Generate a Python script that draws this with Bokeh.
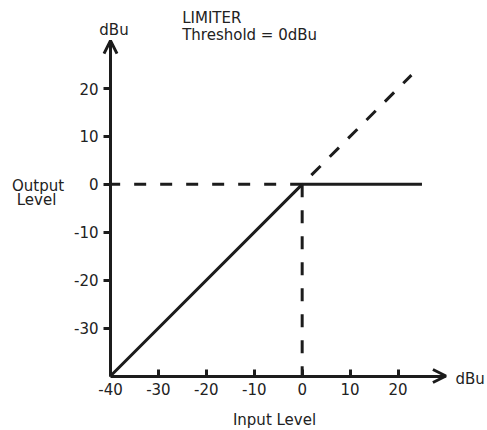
from bokeh.plotting import figure
from bokeh.models import Range1d, FixedTicker, Label, Arrow, OpenHead, LinearAxis
from bokeh.embed import file_html
from bokeh.resources import INLINE

# ---- data ----
x_ticks = [-40, -30, -20, -10, 0, 10, 20]
y_ticks = [-30, -20, -10, 0, 10, 20]
limiter_in = [-40, 0, 25]
limiter_out = [-40, 0, 0]
unity_in = [0, 22.8]
unity_out = [0, 22.8]
threshold = 0
axis_min = -40
axis_max = 30

INK = "#1c1c1c"
TXT = "#222222"
FONT = "DejaVu Sans"
FS = "15px"

p = figure(width=485, height=428,
           x_range=Range1d(-62.956, 38.26), y_range=Range1d(-50.956, 38.37),
           output_backend="svg", toolbar_location=None,
           x_axis_location=None, y_axis_location=None,
           min_border=0, min_border_left=0, min_border_right=0,
           min_border_top=0, min_border_bottom=0)
p.outline_line_color = None
p.xgrid.visible = False
p.ygrid.visible = False
p.background_fill_color = "white"
p.border_fill_color = "white"

xax = LinearAxis(fixed_location=axis_min)
yax = LinearAxis(fixed_location=axis_min)
p.add_layout(xax, "below")
p.add_layout(yax, "left")

for ax, ticks in ((xax, x_ticks), (yax, y_ticks)):
    ax.ticker = FixedTicker(ticks=ticks)
    ax.major_label_overrides = {t: str(t) for t in ticks}
    ax.bounds = (axis_min, axis_max)
    ax.axis_line_width = 3
    ax.axis_line_color = INK
    ax.major_tick_line_width = 3
    ax.major_tick_line_color = INK
    ax.minor_tick_line_color = None
    ax.major_label_text_font = FONT
    ax.major_label_text_font_size = FS
    ax.major_label_text_color = TXT

xax.major_tick_in = 7
xax.major_tick_out = 0
xax.major_label_standoff = 7
yax.major_tick_in = 0
yax.major_tick_out = 7
yax.major_label_standoff = 5

# arrowheads at axis ends
p.add_layout(Arrow(end=OpenHead(size=13, line_width=3, line_color=INK),
                   x_start=axis_min, y_start=axis_max - 1, x_end=axis_min, y_end=axis_max,
                   line_width=3, line_color=INK))
p.add_layout(Arrow(end=OpenHead(size=13, line_width=3, line_color=INK),
                   x_start=axis_max - 1, y_start=axis_min, x_end=axis_max, y_end=axis_min,
                   line_width=3, line_color=INK))

# guide lines
p.line([threshold, axis_min], [threshold, threshold], line_width=3, line_color=INK, line_dash="12 14")
p.line([threshold, threshold], [threshold, axis_min], line_width=3, line_color=INK, line_dash="13 13")
p.line(unity_in, unity_out, line_width=3, line_color=INK, line_dash="13 13", line_dash_offset=13)
# limiter curve
p.line(limiter_in, limiter_out, line_width=3, line_color=INK)

def lab(x, y, t, align="left"):
    p.add_layout(Label(x=x, y=y, text=t, text_font=FONT, text_font_size=FS,
                       text_color=TXT, text_align=align, text_baseline="alphabetic"))

lab(-39.27, 32.15, "dBu", "center")
lab(-25.04, 34.65, "LIMITER")
lab(-25.04, 31.27, "Threshold = 0dBu")
lab(-55.13, -0.35, "Output", "center")
lab(-55.44, -3.27, "Level", "center")
lab(32.0, -40.56, "dBu")
lab(-5.77, -49.24, "Input Level", "center")

open("out.html", "w").write(file_html(p, INLINE))
